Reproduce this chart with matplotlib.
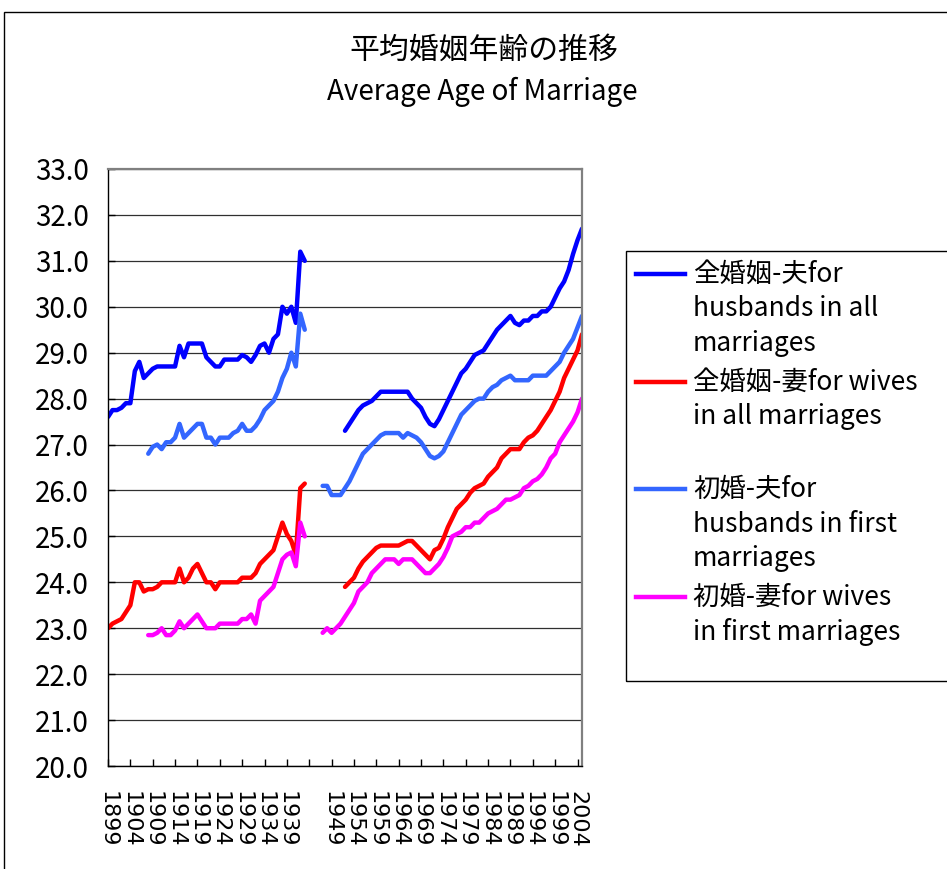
import numpy as np
import matplotlib
matplotlib.use('Agg')
import matplotlib.pyplot as plt
from matplotlib.patches import Rectangle
from matplotlib.lines import Line2D
from matplotlib.transforms import ScaledTranslation

plt.rcParams['font.family'] = ['Noto Sans CJK JP', 'DejaVu Sans']

W, H = 947, 869
years = np.arange(1899, 2006)

# 全婚姻-夫 (all marriages, husbands): 1899-1943 and 1952-2005
all_husb_pre = [27.6, 27.75, 27.75, 27.8, 27.9, 27.9, 28.6, 28.8, 28.45, 28.55, 28.65,
                28.7, 28.7, 28.7, 28.7, 28.7, 29.15, 28.9, 29.2, 29.2, 29.2,
                29.2, 28.9, 28.8, 28.7, 28.7, 28.85, 28.85, 28.85, 28.85, 28.95,
                28.9, 28.8, 28.95, 29.15, 29.2, 29.0, 29.3, 29.4, 30.0, 29.85,
                30.0, 29.65, 31.2, 31.0]
all_husb_post = [27.3, 27.45, 27.6, 27.75, 27.85, 27.9, 27.95, 28.05,
                 28.15, 28.15, 28.15, 28.15, 28.15, 28.15, 28.15, 28.0, 27.9, 27.8,
                 27.6, 27.45, 27.4, 27.55, 27.75, 27.95, 28.15, 28.35, 28.55, 28.65,
                 28.8, 28.95, 29.0, 29.05, 29.2, 29.35, 29.5, 29.6, 29.7, 29.8,
                 29.65, 29.6, 29.7, 29.7, 29.8, 29.8, 29.9, 29.9, 30.0, 30.2,
                 30.4, 30.55, 30.8, 31.15, 31.45, 31.7]

# 全婚姻-妻 (all marriages, wives): 1899-1943 and 1952-2005
all_wife_pre = [23.0, 23.1, 23.15, 23.2, 23.35, 23.5, 24.0, 24.0, 23.8, 23.85, 23.85,
                23.9, 24.0, 24.0, 24.0, 24.0, 24.3, 24.0, 24.1, 24.3, 24.4,
                24.2, 24.0, 24.0, 23.85, 24.0, 24.0, 24.0, 24.0, 24.0, 24.1,
                24.1, 24.1, 24.2, 24.4, 24.5, 24.6, 24.7, 25.0, 25.3, 25.05,
                24.9, 24.6, 26.05, 26.15]
all_wife_post = [23.9, 24.0, 24.1, 24.3, 24.45, 24.55, 24.65, 24.75,
                 24.8, 24.8, 24.8, 24.8, 24.8, 24.85, 24.9, 24.9, 24.8, 24.7,
                 24.6, 24.5, 24.7, 24.75, 24.95, 25.2, 25.4, 25.6, 25.7, 25.8,
                 25.95, 26.05, 26.1, 26.15, 26.3, 26.4, 26.5, 26.7, 26.8, 26.9,
                 26.9, 26.9, 27.05, 27.15, 27.2, 27.3, 27.45, 27.6, 27.75, 27.95,
                 28.15, 28.45, 28.65, 28.85, 29.05, 29.4]

# 初婚-夫 (first marriages, husbands): 1908-1943 and 1947-2005
first_husb_pre = [26.8, 26.95,
                  27.0, 26.9, 27.05, 27.05, 27.15, 27.45, 27.15, 27.25, 27.35, 27.45,
                  27.45, 27.15, 27.15, 27.0, 27.15, 27.15, 27.15, 27.25, 27.3, 27.45,
                  27.3, 27.3, 27.4, 27.55, 27.75, 27.85, 27.95, 28.15, 28.45, 28.65,
                  29.0, 28.7, 29.85, 29.5]
first_husb_post = [26.1, 26.1, 25.9,
                   25.9, 25.9, 26.05, 26.2, 26.4, 26.6, 26.8, 26.9, 27.0, 27.1,
                   27.2, 27.25, 27.25, 27.25, 27.25, 27.15, 27.25, 27.2, 27.15, 27.05,
                   26.9, 26.75, 26.7, 26.75, 26.85, 27.05, 27.25, 27.45, 27.65, 27.75,
                   27.85, 27.95, 28.0, 28.0, 28.15, 28.25, 28.3, 28.4, 28.45, 28.5,
                   28.4, 28.4, 28.4, 28.4, 28.5, 28.5, 28.5, 28.5, 28.6, 28.7,
                   28.8, 29.0, 29.15, 29.3, 29.55, 29.8]

# 初婚-妻 (first marriages, wives): 1908-1943 and 1947-2005
first_wife_pre = [22.85, 22.85,
                  22.9, 23.0, 22.85, 22.85, 22.95, 23.15, 23.0, 23.1, 23.2, 23.3,
                  23.15, 23.0, 23.0, 23.0, 23.1, 23.1, 23.1, 23.1, 23.1, 23.2,
                  23.2, 23.3, 23.1, 23.6, 23.7, 23.8, 23.9, 24.2, 24.5, 24.6,
                  24.65, 24.35, 25.3, 25.0]
first_wife_post = [22.9, 23.0, 22.9,
                   23.0, 23.1, 23.25, 23.4, 23.55, 23.8, 23.9, 24.0, 24.2, 24.3,
                   24.4, 24.5, 24.5, 24.5, 24.4, 24.5, 24.5, 24.5, 24.4, 24.3,
                   24.2, 24.2, 24.3, 24.4, 24.55, 24.75, 25.0, 25.05, 25.1, 25.2,
                   25.2, 25.3, 25.3, 25.4, 25.5, 25.55, 25.6, 25.7, 25.8, 25.8,
                   25.85, 25.9, 26.05, 26.1, 26.2, 26.25, 26.35, 26.5, 26.7, 26.8,
                   27.05, 27.2, 27.35, 27.5, 27.7, 28.0]

tick_years = list(range(1899, 2005, 5))
tick_labels = ['1899', '1904', '1909', '1914', '1919', '1924', '1929', '1934', '1939', '',
               '1949', '1954', '1959', '1964', '1969', '1974', '1979', '1984', '1989',
               '1994', '1999', '2004']

legend_lines = [
    ['全婚姻-夫for', 'husbands in all', 'marriages'],
    ['全婚姻-妻for wives', 'in all marriages'],
    ['初婚-夫for', 'husbands in first', 'marriages'],
    ['初婚-妻for wives', 'in first marriages'],
]
colors = ['#0000FF', '#FF0000', '#3366FF', '#FF00FF']


def build(pre_start, pre, post_start, post):
    s = np.full(len(years), np.nan)
    i = pre_start - 1899
    s[i:i + len(pre)] = pre
    j = post_start - 1899
    s[j:j + len(post)] = post
    return s


series = [build(1899, all_husb_pre, 1952, all_husb_post),
          build(1899, all_wife_pre, 1952, all_wife_post),
          build(1908, first_husb_pre, 1947, first_husb_post),
          build(1908, first_wife_pre, 1947, first_wife_post)]


def fx(px):
    return px / W


def fy(py):
    return 1 - py / H


fig = plt.figure(figsize=(W / 100, H / 100), dpi=100)
ax = fig.add_axes([fx(108), fy(766), fx(582) - fx(108), fy(169) - fy(766)])

for s, c in zip(series, colors):
    ax.plot(years, s, color=c, linewidth=3.2, solid_joinstyle='round', solid_capstyle='round')

ax.set_xlim(1899, 2005)
ax.set_ylim(20, 33)
ax.set_yticks(np.arange(20, 34, 1))
ax.set_yticklabels([f'{v:.1f}' for v in np.arange(20, 34, 1)])
ax.set_xticks(tick_years)
ax.set_xticklabels(tick_labels, rotation=-90, family='DejaVu Sans', fontsize=16)
shift = ScaledTranslation(-4 / 100, 0, fig.dpi_scale_trans)
for lab in ax.get_xticklabels():
    lab.set_transform(lab.get_transform() + shift)
ax.grid(axis='y', color='#303030', linewidth=0.9)
ax.set_axisbelow(True)
ax.tick_params(axis='y', direction='in', length=5, width=1, pad=14, labelsize=20)
ax.tick_params(axis='x', direction='in', length=5, width=1, pad=18)
for sp in ['top', 'right']:
    ax.spines[sp].set_color('#808080')
    ax.spines[sp].set_linewidth(1.6)
for sp in ['left', 'bottom']:
    ax.spines[sp].set_color('black')
    ax.spines[sp].set_linewidth(1.0)

# chart area border (cropped on right/bottom)
fig.patches.append(Rectangle((fx(4), fy(1000)), 2, fy(12) - fy(1000), transform=fig.transFigure,
                             fill=False, edgecolor='black', linewidth=1.0))

fig.text(fx(484), fy(50), '平均婚姻年齢の推移', ha='center', va='center', fontsize=21.5)
fig.text(fx(482), fy(92), 'Average Age of Marriage', ha='center', va='center', fontsize=20)

# legend box
fig.patches.append(Rectangle((fx(626), fy(681)), 1, fy(251) - fy(681), transform=fig.transFigure,
                             fill=False, edgecolor='black', linewidth=1.0))
entry_y = [274, 382, 489, 597]
for lines, c, y0 in zip(legend_lines, colors, entry_y):
    fig.add_artist(Line2D([fx(636), fx(685)], [fy(y0), fy(y0)], color=c, linewidth=3.2,
                          transform=fig.transFigure))
    for k, t in enumerate(lines):
        fig.text(fx(693), fy(y0 + 35 * k), t, ha='left', va='center', fontsize=19)

fig.savefig('out.png', dpi=100)
